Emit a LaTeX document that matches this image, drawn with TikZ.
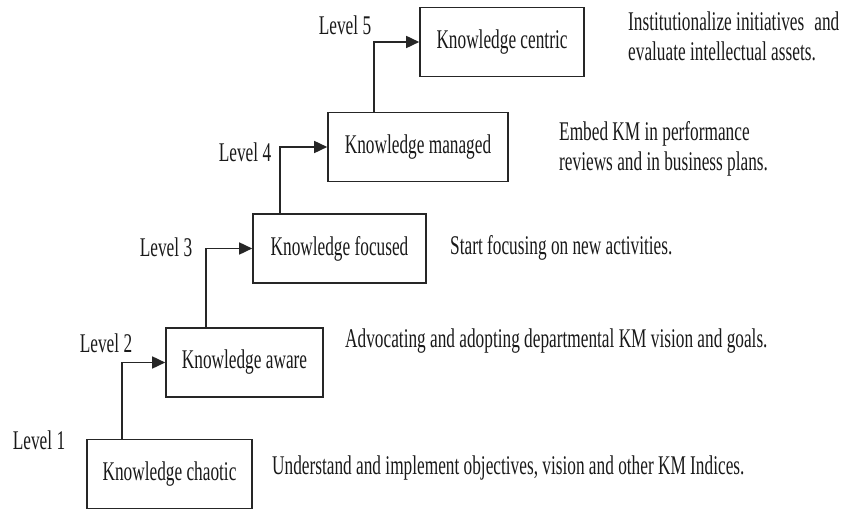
\documentclass[tikz,border=0pt]{standalone}
\usepackage{fontspec}
\setmainfont{Liberation Serif}[FakeStretch=0.64]
\usetikzlibrary{arrows.meta}

\begin{document}
\begin{tikzpicture}[x=1pt,y=-1pt,
    every node/.style={font=\fontsize{27}{30}\selectfont, text=black!90},
    stage/.style={draw=black!85, line width=1.6pt, inner sep=0pt, minimum height=69pt},
    note/.style={anchor=west, align=left, inner sep=0pt},
    climb/.style={draw=black!85, line width=1.6pt, -{Triangle[length=13pt,width=12pt]}}]
    \useasboundingbox (0,0) rectangle (848,510);
    % the five stages
    \node[stage, minimum width=165pt] (chaotic) at (169.5,474) {Knowledge chaotic};
    \node[stage, minimum width=157pt] (aware) at (244.5,362.5) {Knowledge aware};
    \node[stage, minimum width=173pt] (focused) at (339.5,248.5) {Knowledge focused};
    \node[stage, minimum width=180pt] (managed) at (418,147) {Knowledge managed};
    \node[stage, minimum width=164pt] (centric) at (502,42) {Knowledge centric};
    % levels
    \node (lv1) at (39,440) {Level 1};
    \node (lv2) at (106,343) {Level 2};
    \node (lv3) at (166,247) {Level 3};
    \node (lv4) at (245,152) {Level 4};
    \node (lv5) at (345,25) {Level 5};
    % steps up
    \draw[climb] ([xshift=36pt]chaotic.north west) |- (aware.west);
    \draw[climb] ([xshift=41pt]aware.north west) |- (focused.west);
    \draw[climb] ([xshift=28pt]focused.north west) |- (managed.west);
    \draw[climb] ([xshift=47pt]managed.north west) |- (centric.west);
    % descriptions
    \node[note] (d1) at (272,468) {Understand and implement objectives, vision and other KM Indices.};
    \node[note] (d2) at (345,341) {Advocating and adopting departmental KM vision and goals.};
    \node[note] (d3) at (450,248) {Start focusing on new activities.};
    \node[note] (d4) at (559,149) {Embed KM in performance\\reviews and in business plans.};
    \node[note] (d5) at (628,36) {Institutionalize initiatives\hspace{10pt}and\\evaluate intellectual assets.};
\end{tikzpicture}
\end{document}
